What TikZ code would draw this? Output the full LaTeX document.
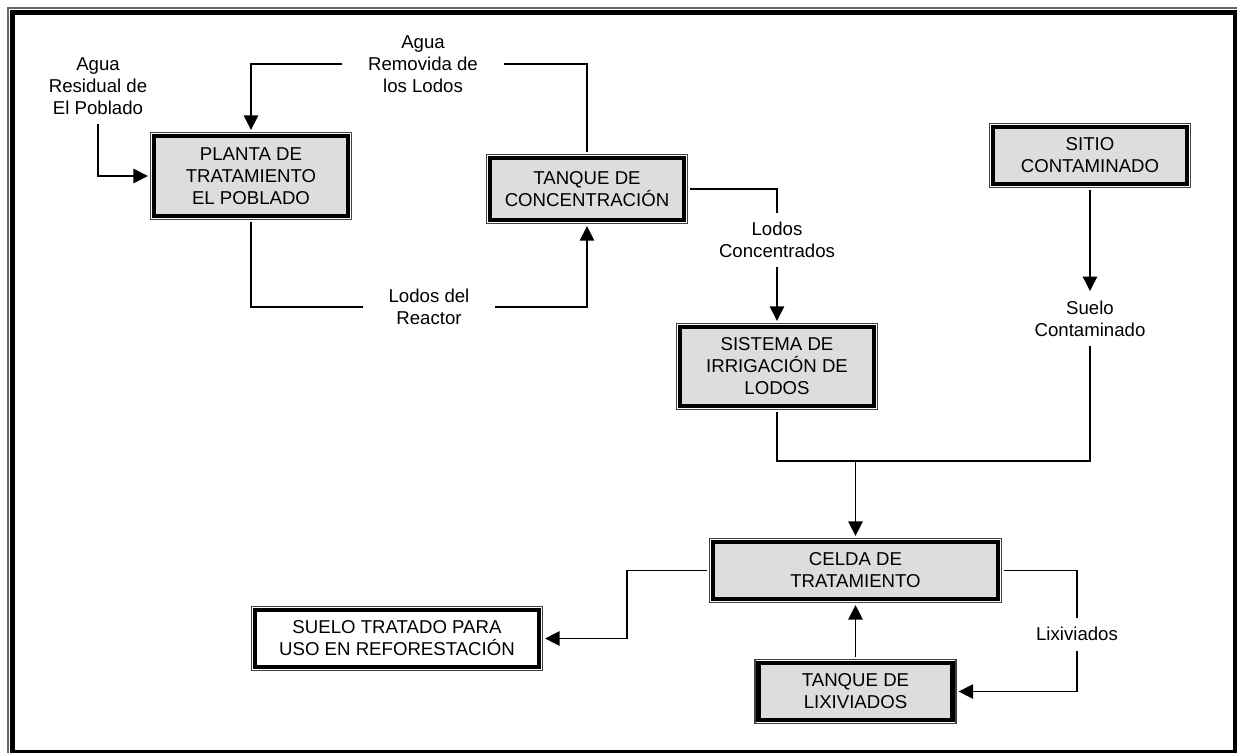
\documentclass[tikz,border=0pt]{standalone}
\usepackage{fontspec}
\setmainfont{Liberation Sans}
\usepackage{tikz}
\usetikzlibrary{arrows.meta,%
                positioning}
\definecolor{fondo}{RGB}{221,221,221}

\begin{document}
\begin{tikzpicture}[x=0.02cm,y=-0.02cm,
  font=\fontsize{10.6}{12.5}\selectfont,
  caja/.style={draw, line width=2.4pt, fill=fondo, align=center,
    minimum width=110.4pt, minimum height=32.4pt, inner sep=2pt, outer sep=3.5pt,
    append after command={\pgfextra{\draw[line width=0.6pt, draw=black!75]
      ([shift={(1.5pt,1.5pt)}]\tikzlastnode.south west) rectangle
      ([shift={(-1.5pt,-1.5pt)}]\tikzlastnode.north east);}}},
  etiqueta/.style={align=center, inner xsep=14.5pt, inner ysep=5.3pt},
  linea/.style={line width=0.75pt},
  flecha/.style={linea, -{Triangle[length=8.2pt,width=8.2pt]}}]
\useasboundingbox (0,0) rectangle (1237,752);
\draw[line width=0.6pt, black!60] (8,8) rectangle (1240,756);
\draw[line width=2.85pt] (12.5,12.5) rectangle (1235.5,752.5);

\node[caja, minimum height=45.5pt] (planta) at (251,176) {PLANTA DE\\TRATAMIENTO\\EL POBLADO};
\node[caja, minimum height=35.3pt] (tconc) at (587,189) {TANQUE DE\\CONCENTRACIÓN};
\node[caja] (sitio) at (1090,155.5) {SITIO\\CONTAMINADO};
\node[caja, minimum height=45pt] (sist) at (777,366.5) {SISTEMA DE\\IRRIGACIÓN DE\\LODOS};
\node[caja, minimum width=162pt] (celda) at (855.5,570.5) {CELDA DE\\TRATAMIENTO};
\node[caja] (tlix) at (855.5,691.5) {TANQUE DE\\LIXIVIADOS};
\node[caja, fill=white, minimum width=161.6pt] (stratado) at (397,638.5) {SUELO TRATADO PARA\\USO EN REFORESTACIÓN};

\node[etiqueta] (aguares) at (98,86) {Agua\\Residual de\\El Poblado};
\node[etiqueta] (aguarem) at (423,64) {Agua\\Removida de\\los Lodos};
\node[etiqueta] (lodosreac) at (429,307) {Lodos del\\Reactor};
\node[etiqueta] (lodoscon) at (777,240) {Lodos\\Concentrados};
\node[etiqueta] (suelocon) at (1090,318.5) {Suelo\\Contaminado};
\node[etiqueta] (lixiv) at (1077,634) {Lixiviados};
\coordinate (union) at (855.5,461);
\coordinate (codo) at (627,604);

\draw[flecha] (aguares.south) |- (planta.west);
\draw[linea] (tconc.north) |- (aguarem.east);
\draw[flecha] (aguarem.west) -| (planta.north);
\draw[linea] (planta.south) |- (lodosreac.west);
\draw[flecha] (lodosreac.east) -| (tconc.south);
\draw[linea] (tconc.east) -| (lodoscon.north);
\draw[flecha] (lodoscon.south) -- (sist.north);
\draw[flecha] (sitio.south) -- (suelocon.north);
\draw[linea] (sist.south) |- (union);
\draw[linea] (suelocon.south) |- (union);
\draw[flecha] (union) -- (celda.north);
\draw[flecha] (celda.west) -| (codo) |- (stratado.east);
\draw[linea] (celda.east) -| (lixiv.north);
\draw[flecha] (lixiv.south) |- (tlix.east);
\draw[flecha] (tlix.north) -- (celda.south);
\end{tikzpicture}
\end{document}
